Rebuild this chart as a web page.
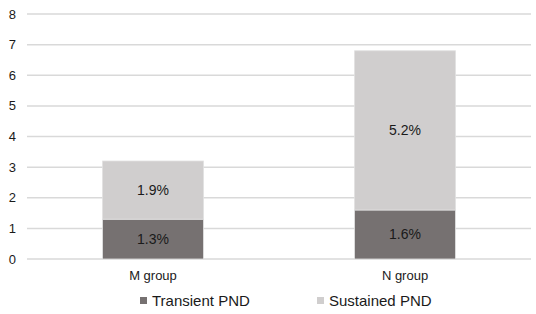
<!DOCTYPE html>
<html>
<head>
<meta charset="utf-8">
<script src="https://cdn.jsdelivr.net/npm/d3@7"></script>
<style>
  body { margin: 0; background: #fff; }
  text { font-family: "Liberation Sans", Arial, sans-serif; fill: #1a1a1a; }
</style>
</head>
<body>
<div id="chart"></div>
<script>
const groups = ["M group", "N group"];
const seriesNames = ["Transient PND", "Sustained PND"];
const transient = [1.3, 1.6];
const sustained = [1.9, 5.2];
const yTicks = [0, 1, 2, 3, 4, 5, 6, 7, 8];
const colors = ["#767171", "#d0cece"];

const width = 536;
const height = 314;
const margin = { top: 14, right: 5, bottom: 55, left: 27 };

const svg = d3
  .select("#chart")
  .append("svg")
  .attr("width", width)
  .attr("height", height);

const x = d3
  .scaleBand()
  .domain(groups)
  .range([margin.left, width - margin.right])
  .paddingInner(0.6)
  .paddingOuter(0.3);

const y = d3
  .scaleLinear()
  .domain([0, 8])
  .range([height - margin.bottom, margin.top]);

// gridlines
svg
  .append("g")
  .selectAll("line")
  .data(yTicks)
  .join("line")
  .attr("x1", margin.left)
  .attr("x2", width - margin.right)
  .attr("y1", (d) => y(d))
  .attr("y2", (d) => y(d))
  .style("stroke", "#d9d9d9")
  .style("stroke-width", 1.5);

// y tick labels
svg
  .append("g")
  .selectAll("text")
  .data(yTicks)
  .join("text")
  .attr("x", 16)
  .attr("y", (d) => y(d))
  .attr("dy", "0.35em")
  .attr("text-anchor", "end")
  .style("font-size", "13px")
  .text((d) => d);

// stacked data
const rows = groups.map((g, i) => ({
  group: g,
  "Transient PND": transient[i],
  "Sustained PND": sustained[i],
}));
const stacked = d3.stack().keys(seriesNames)(rows);

const layers = svg
  .append("g")
  .selectAll("g")
  .data(stacked)
  .join("g")
  .style("fill", (d, i) => colors[i]);

layers
  .selectAll("rect")
  .data((d) => d)
  .join("rect")
  .attr("x", (d) => x(d.data.group))
  .attr("width", x.bandwidth())
  .attr("y", (d) => y(d[1]))
  .attr("height", (d) => y(d[0]) - y(d[1]))
  .style("stroke", "#e0e0e0")
  .style("stroke-width", 0.8);

// value labels
layers
  .selectAll("text")
  .data((d) => d)
  .join("text")
  .attr("x", (d) => x(d.data.group) + x.bandwidth() / 2)
  .attr("y", (d) => (y(d[0]) + y(d[1])) / 2)
  .attr("dy", "0.35em")
  .attr("text-anchor", "middle")
  .style("font-size", "14px")
  .text((d) => (d[1] - d[0]).toFixed(1) + "%");

// category labels
svg
  .append("g")
  .selectAll("text")
  .data(groups)
  .join("text")
  .attr("x", (d) => x(d) + x.bandwidth() / 2)
  .attr("y", 275)
  .attr("dy", "0.35em")
  .attr("text-anchor", "middle")
  .style("font-size", "13px")
  .text((d) => d);

// legend
const legendX = [140, 317];
const legend = svg
  .append("g")
  .selectAll("g")
  .data(seriesNames)
  .join("g")
  .attr("transform", (d, i) => `translate(${legendX[i]},301)`);

legend
  .append("rect")
  .attr("x", 0)
  .attr("y", -4)
  .attr("width", 7)
  .attr("height", 7)
  .style("fill", (d, i) => colors[i]);

legend
  .append("text")
  .attr("x", 12)
  .attr("y", 0)
  .attr("dy", "0.35em")
  .style("font-size", "15px")
  .text((d) => d);
</script>
</body>
</html>
